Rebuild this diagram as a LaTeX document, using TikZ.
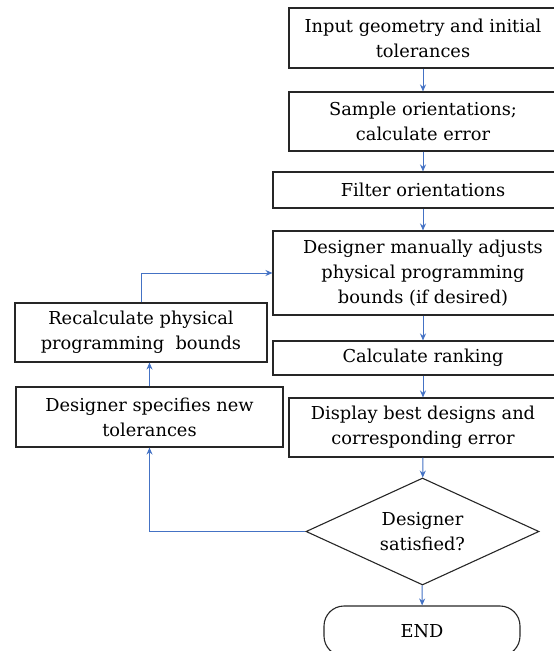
\documentclass[tikz,border=0pt]{standalone}
\usepackage{fontspec}
\setmainfont{DejaVu Serif}
\usepackage{tikz}
\usetikzlibrary{shapes.geometric,arrows.meta}

\definecolor{flowblue}{RGB}{68,114,196}

\begin{document}
\begin{tikzpicture}[x=1pt,y=-1pt,
    stepbox/.style={draw=black!85,line width=1.1pt,rectangle,inner sep=0pt,align=center,
        font=\fontsize{17.8}{25}\selectfont},
    decide/.style={draw=black!85,line width=1.1pt,diamond,aspect=2.18,inner sep=0pt,align=center,
        minimum width=233pt,minimum height=107pt,font=\fontsize{17.8}{25}\selectfont},
    stopbox/.style={draw=black!85,line width=1.1pt,rectangle,rounded corners=20pt,inner sep=0pt,
        font=\fontsize{17.8}{25}\selectfont},
    flow/.style={draw=flowblue,line width=1pt,-{Stealth[length=7pt,width=6pt]}}]
    \useasboundingbox (0,0) rectangle (554,651);
    \clip (0,0) rectangle (554,651);
    % main column
    \node[stepbox,minimum width=268pt,minimum height=60pt] (input) at (423,38) {Input geometry and initial\\tolerances};
    \node[stepbox,minimum width=268pt,minimum height=59pt] (sample) at (423,121.5) {Sample orientations;\\calculate error};
    \node[stepbox,minimum width=300pt,minimum height=36pt] (filter) at (423,190) {Filter orientations};
    \node[stepbox,minimum width=300pt,minimum height=84pt] (adjust) at (423,273) {Designer manually adjusts\\physical programming\\bounds (if desired)};
    \node[stepbox,minimum width=300pt,minimum height=34pt] (rank) at (423,358) {Calculate ranking};
    \node[stepbox,minimum width=268pt,minimum height=59pt] (display) at (423,427.5) {Display best designs and\\corresponding error};
    \node[decide] (happy) at (422.5,531.5) {Designer\\satisfied?};
    \node[stopbox,minimum width=196pt,minimum height=50pt] (finish) at (422,631) {END};
    % loop back
    \node[stepbox,minimum width=252pt,minimum height=59pt] (recalc) at (141,332.5) {Recalculate physical\\programming\ \ bounds};
    \node[stepbox,minimum width=267pt,minimum height=60pt] (newtol) at (149.5,417) {Designer specifies new\\tolerances};
    \coordinate (turn) at (149.5,531.5);

    \draw[flow] (input) -- (sample);
    \draw[flow] (sample) -- (filter);
    \draw[flow] (filter) -- (adjust);
    \draw[flow] (adjust) -- (rank);
    \draw[flow] (rank) -- (display);
    \draw[flow] (display) -- (happy);
    \draw[flow] (happy) -- (finish);
    \draw[flow] (happy.west) -- (turn) -- (newtol.south);
    \draw[flow] (newtol.north) -- (newtol.north |- recalc.south);
    \draw[flow] (recalc.north) |- (adjust.west);
\end{tikzpicture}
\end{document}
